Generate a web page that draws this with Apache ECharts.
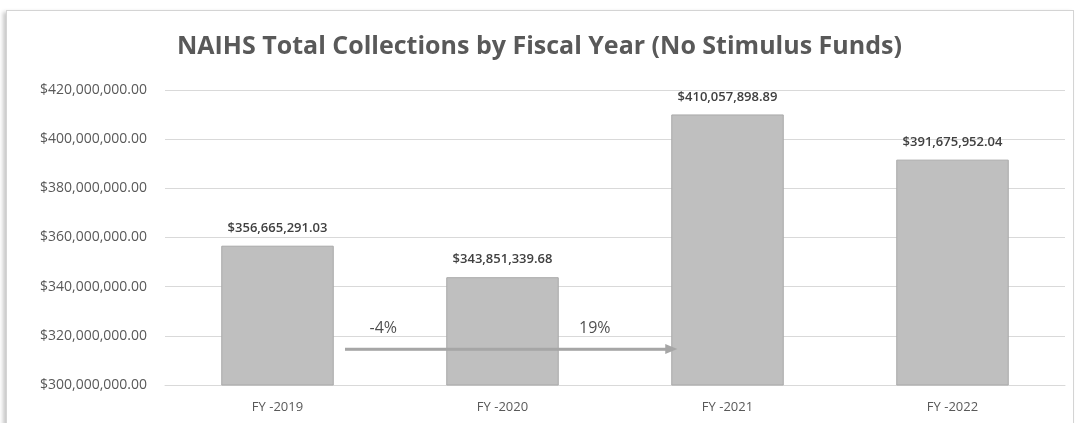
<!DOCTYPE html>
<html>
<head>
<meta charset="utf-8">
<script src="https://cdn.jsdelivr.net/npm/echarts@6/dist/echarts.min.js"></script>
<style>
  html, body { margin: 0; padding: 0; background: #ffffff; }
  #frame { position: absolute; left: 6px; top: 10px; width: 1066px; height: 415px;
           border: 1px solid #d4d4d4; box-shadow: -3px 2px 4px #c8c8c8; background: #fff; }
  #chart { position: absolute; left: 0; top: 0; width: 1078px; height: 423px; }
</style>
</head>
<body>
<div id="frame"></div>
<div id="chart"></div>
<script>
const categories = ['FY -2019', 'FY -2020', 'FY -2021', 'FY -2022'];
const collections = [356665291.03, 343851339.68, 410057898.89, 391675952.04];
const yTicks = [300000000, 320000000, 340000000, 360000000, 380000000, 400000000, 420000000];
// annotation: arrow in (category position, value) space, and change labels
const arrowStart = [0.3, 314600000];
const arrowEnd = [1.75, 314600000];
const changeLabels = ['-4%', '19%'];
const changeLabelPos = [[0.47, 323000000], [1.41, 323000000]];

function money(v) {
  return '$' + v.toLocaleString('en-US', { minimumFractionDigits: 2, maximumFractionDigits: 2 });
}

const chart = echarts.init(document.getElementById('chart'), null, { renderer: 'canvas' });
chart.setOption({
  backgroundColor: 'transparent',
  animation: false,
  title: {
    text: 'NAIHS Total Collections by Fiscal Year (No Stimulus Funds)',
    left: 172, top: 29,
    textStyle: { fontFamily: 'Open Sans', fontWeight: 'bold', fontSize: 25, color: '#595959' }
  },
  grid: { left: 165, right: 13, top: 90, bottom: 38, containLabel: false },
  xAxis: [{
    type: 'category', data: categories,
    axisLine: { show: true, lineStyle: { color: '#d9d9d9' } },
    axisTick: { show: false },
    axisLabel: { color: '#595959', fontFamily: 'Open Sans', fontSize: 13, margin: 16 }
  }, {
    type: 'value', min: -0.5, max: 3.5, show: false
  }],
  yAxis: {
    type: 'value', min: yTicks[0], max: yTicks[yTicks.length - 1], interval: 20000000,
    axisLine: { show: false }, axisTick: { show: false },
    splitLine: { lineStyle: { color: '#d9d9d9', width: 1 } },
    axisLabel: { color: '#595959', fontFamily: 'Open Sans', fontSize: 14, margin: 18,
                 formatter: v => money(v) }
  },
  series: [{
    type: 'bar', data: collections, barWidth: '50%', xAxisIndex: 0,
    itemStyle: { color: '#bfbfbf', borderColor: '#a9a9a9', borderWidth: 1 },
    label: { show: true, position: 'top', distance: 11, color: '#404040',
             fontFamily: 'Open Sans', fontSize: 13, fontWeight: 600,
             formatter: p => money(p.value) },
    z: 2
  }, {
    type: 'line', xAxisIndex: 1, data: [arrowStart, arrowEnd],
    symbol: ['none', 'none'], showSymbol: false,
    lineStyle: { color: '#a6a6a6', width: 2.5 },
    markLine: {
      silent: true, symbol: ['none', 'triangle'], symbolSize: [10, 12],
      lineStyle: { color: '#a6a6a6', width: 2.5, type: 'solid' },
      label: { show: false },
      data: [[{ coord: arrowStart }, { coord: arrowEnd }]]
    },
    z: 5
  }, {
    type: 'scatter', xAxisIndex: 1, symbolSize: 0,
    data: changeLabelPos.map((p, i) => ({ value: p, name: changeLabels[i] })),
    label: { show: true, position: 'inside', formatter: p => p.name,
             color: '#1f1f1f', fontFamily: 'Open Sans', fontSize: 16 },
    z: 6
  }]
});
</script>
</body>
</html>
